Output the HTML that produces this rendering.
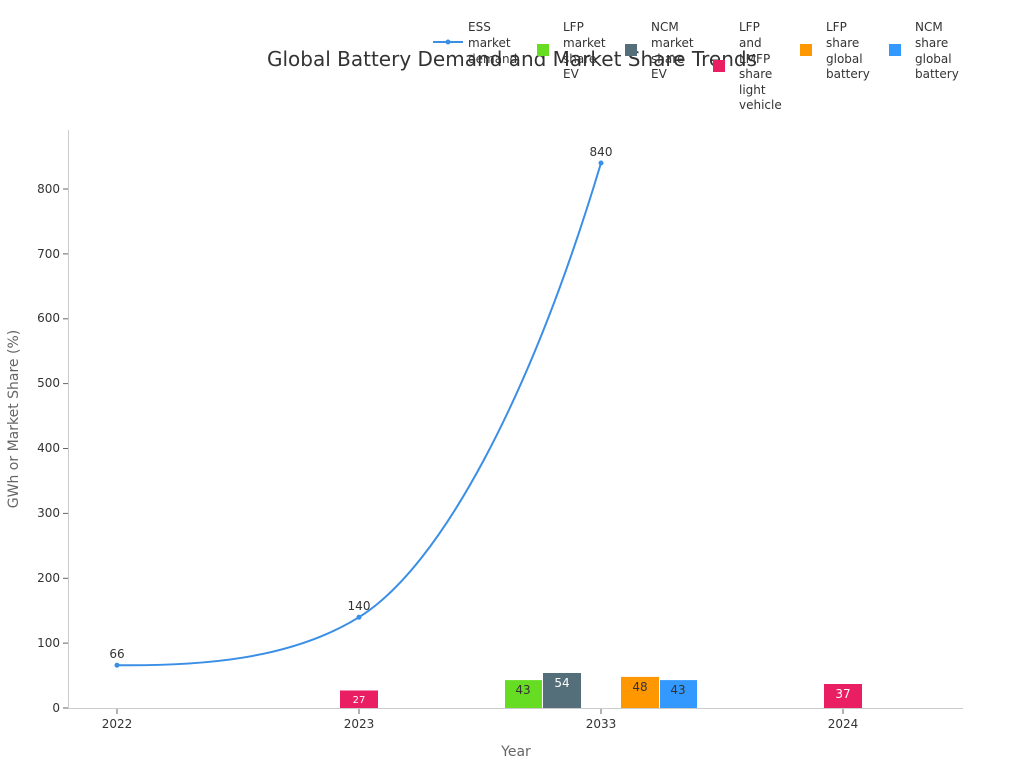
<!DOCTYPE html>
<html><head><meta charset="utf-8"><style>
html,body{margin:0;padding:0;background:#fff;}
svg{display:block;font-family:"DejaVu Sans","Liberation Sans",sans-serif;}
</style></head><body>
<svg width="1024" height="768" viewBox="0 0 1024 768">
<rect width="1024" height="768" fill="#fff"/>
<text x="512" y="66" font-size="20" fill="#333" text-anchor="middle">Global Battery Demand and Market Share Trends</text>
<!-- axes -->
<line x1="68.5" y1="130" x2="68.5" y2="708" stroke="#ccc"/>
<line x1="68" y1="708.5" x2="963" y2="708.5" stroke="#ccc"/>
<g font-size="12" fill="#333" text-anchor="end">
<line x1="63" x2="68" y1="708" y2="708" stroke="#666"/><text x="60" y="712">0</text>
<line x1="63" x2="68" y1="643.1" y2="643.1" stroke="#666"/><text x="60" y="647">100</text>
<line x1="63" x2="68" y1="578.3" y2="578.3" stroke="#666"/><text x="60" y="582">200</text>
<line x1="63" x2="68" y1="513.4" y2="513.4" stroke="#666"/><text x="60" y="517">300</text>
<line x1="63" x2="68" y1="448.5" y2="448.5" stroke="#666"/><text x="60" y="452">400</text>
<line x1="63" x2="68" y1="383.6" y2="383.6" stroke="#666"/><text x="60" y="387">500</text>
<line x1="63" x2="68" y1="318.8" y2="318.8" stroke="#666"/><text x="60" y="322">600</text>
<line x1="63" x2="68" y1="253.9" y2="253.9" stroke="#666"/><text x="60" y="258">700</text>
<line x1="63" x2="68" y1="189" y2="189" stroke="#666"/><text x="60" y="193">800</text>
</g>
<g font-size="12" fill="#333" text-anchor="middle">
<line x1="117" x2="117" y1="709" y2="714" stroke="#666"/><text x="117" y="728">2022</text>
<line x1="359" x2="359" y1="709" y2="714" stroke="#666"/><text x="359" y="728">2023</text>
<line x1="601" x2="601" y1="709" y2="714" stroke="#666"/><text x="601" y="728">2033</text>
<line x1="843" x2="843" y1="709" y2="714" stroke="#666"/><text x="843" y="728">2024</text>
</g>
<text x="516" y="756" font-size="14" fill="#666" text-anchor="middle">Year</text>
<text transform="translate(18,419) rotate(-90)" font-size="14" fill="#666" text-anchor="middle">GWh or Market Share (%)</text>
<!-- bars -->
<rect x="340" y="690.5" width="38" height="17.5" fill="#e91e63"/>
<text x="359" y="703" font-size="10" fill="#fff" text-anchor="middle">27</text>
<rect x="505" y="680.1" width="37" height="27.9" fill="#66dd22"/>
<text x="523" y="694" font-size="12" fill="#333" text-anchor="middle">43</text>
<rect x="543" y="673" width="38" height="35" fill="#546e7a"/>
<text x="562" y="687" font-size="12" fill="#fff" text-anchor="middle">54</text>
<rect x="621" y="676.9" width="38" height="31.1" fill="#ff9800"/>
<text x="640" y="691" font-size="12" fill="#333" text-anchor="middle">48</text>
<rect x="660" y="680.1" width="37" height="27.9" fill="#3399ff"/>
<text x="678" y="694" font-size="12" fill="#333" text-anchor="middle">43</text>
<rect x="824" y="684" width="38" height="24" fill="#e91e63"/>
<text x="843" y="698" font-size="12" fill="#fff" text-anchor="middle">37</text>
<!-- line -->
<path d="M117,665.2 C200,666 290,660 359,617.2 C440,567 530,400 601,163" fill="none" stroke="#3a8ee6" stroke-width="2"/>
<circle cx="117" cy="665.2" r="2.5" fill="#3a8ee6"/>
<circle cx="359" cy="617.2" r="2.5" fill="#3a8ee6"/>
<circle cx="601" cy="163" r="2.5" fill="#3a8ee6"/>
<g font-size="12" fill="#333" text-anchor="middle">
<text x="117" y="658">66</text><text x="359" y="610">140</text><text x="601" y="156">840</text>
</g>
<!-- legend -->
<g font-size="12" fill="#333">
<line x1="433" x2="463" y1="42" y2="42" stroke="#3a8ee6" stroke-width="2"/><circle cx="448" cy="42" r="2.5" fill="#3a8ee6"/>
<text x="468" y="31">ESS</text><text x="468" y="47">market</text><text x="468" y="63">demand</text>
<rect x="537" y="44" width="12" height="12" fill="#66dd22"/>
<text x="563" y="31">LFP</text><text x="563" y="47">market</text><text x="563" y="63">share</text><text x="563" y="78">EV</text>
<rect x="625" y="44" width="12" height="12" fill="#546e7a"/>
<text x="651" y="31">NCM</text><text x="651" y="47">market</text><text x="651" y="63">share</text><text x="651" y="78">EV</text>
<rect x="713" y="60" width="12" height="12" fill="#e91e63"/>
<text x="739" y="31">LFP</text><text x="739" y="47">and</text><text x="739" y="63">LMFP</text><text x="739" y="78">share</text><text x="739" y="94">light</text><text x="739" y="109">vehicle</text>
<rect x="800" y="44" width="12" height="12" fill="#ff9800"/>
<text x="826" y="31">LFP</text><text x="826" y="47">share</text><text x="826" y="63">global</text><text x="826" y="78">battery</text>
<rect x="889" y="44" width="12" height="12" fill="#3399ff"/>
<text x="915" y="31">NCM</text><text x="915" y="47">share</text><text x="915" y="63">global</text><text x="915" y="78">battery</text>
</g>
</svg>
</body></html>
